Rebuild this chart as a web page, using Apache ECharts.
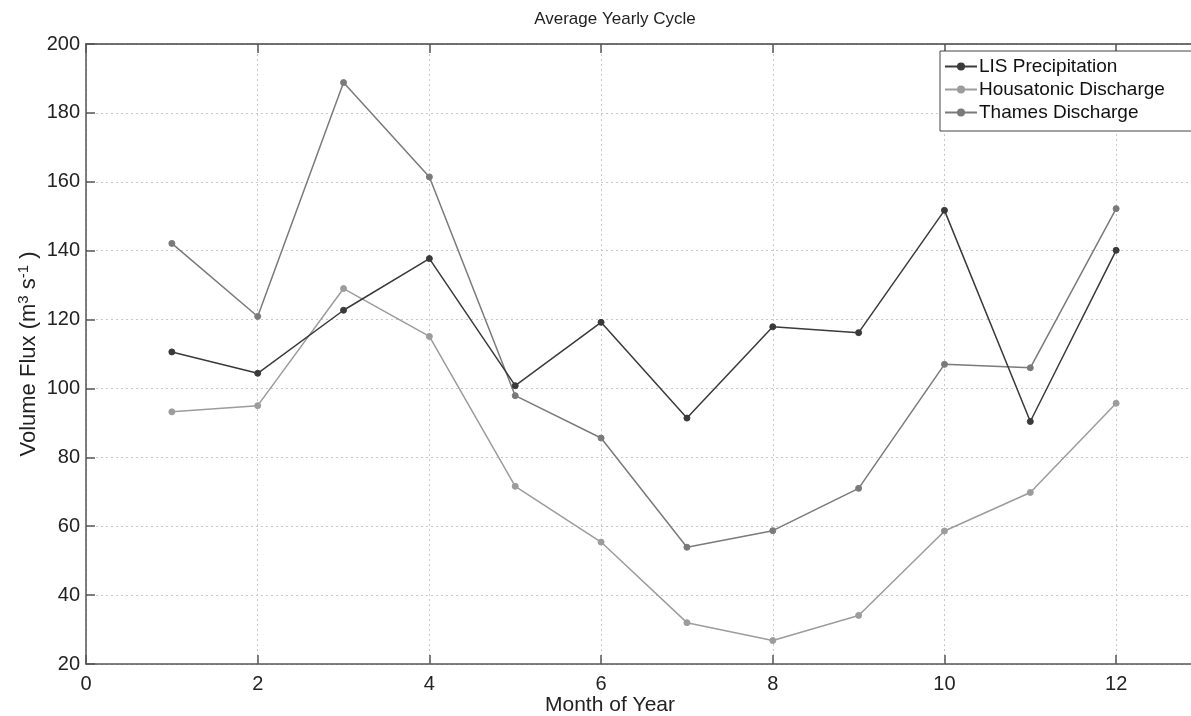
<!DOCTYPE html>
<html>
<head>
<meta charset="utf-8">
<script src="https://cdn.jsdelivr.net/npm/echarts@6/dist/echarts.min.js"></script>
<style>
html,body{margin:0;padding:0;background:#fff;}
#chart{width:1191px;height:716px;}
</style>
</head>
<body>
<div id="chart"></div>
<script>
const months = [1,2,3,4,5,6,7,8,9,10,11,12];
const lisPrecip = [110.6,104.4,122.7,137.7,100.8,119.2,91.4,117.9,116.2,151.7,90.4,140.1];
const housatonic = [93.2,95.0,129.0,115.1,71.6,55.4,32.0,26.8,34.1,58.6,69.8,95.7];
const thames = [142.1,120.9,188.8,161.4,97.9,85.6,53.9,58.7,71.0,107.0,106.0,152.2];
const seriesNames = ['LIS Precipitation','Housatonic Discharge','Thames Discharge'];

const font = 'Liberation Sans, Arial, Helvetica, sans-serif';
const pairs = arr => months.map((m,i)=>[m,arr[i]]);
const colors = ['#3a3a3a','#9c9c9c','#7a7a7a'];
const dataSets = [lisPrecip, housatonic, thames];

const chart = echarts.init(document.getElementById('chart'));
chart.setOption({
  animation:false,
  backgroundColor:'#fff',
  title:{text:'Average Yearly Cycle',left:610,top:6,textAlign:'center',
    textStyle:{fontFamily:font,fontSize:17,fontWeight:'normal',color:'#222'}},
  grid:{left:86,top:44,width:1116,height:620,containLabel:false,outerBoundsMode:'none'},
  legend:{
    orient:'vertical',left:940,top:51,
    data:seriesNames,
    itemWidth:32,itemHeight:10,itemGap:4,
    padding:[6,60,9,4],
    backgroundColor:'#fff',borderColor:'#444',borderWidth:1,borderRadius:0,
    textStyle:{fontFamily:font,fontSize:19,color:'#111',padding:[0,0,0,-3]}
  },
  xAxis:[{
    type:'value',min:0,max:13,interval:2,
    name:'Month of Year',nameLocation:'middle',nameGap:31,nameMoveOverlap:false,
    nameTextStyle:{fontFamily:font,fontSize:21,color:'#222',padding:[0,68,0,0]},
    axisLine:{lineStyle:{color:'#555',width:1.5}},
    axisTick:{inside:true,length:9,lineStyle:{color:'#555',width:1.5}},
    axisLabel:{fontFamily:font,fontSize:20,color:'#222',margin:10,
      formatter:v=>(v%2===0?String(v):'')},
    splitLine:{show:true,lineStyle:{color:'#c8c8c8',type:[2,3],width:1}}
  },{
    type:'value',min:0,max:13,interval:2,position:'top',
    axisLine:{show:true,lineStyle:{color:'#444',width:1.5}},
    axisTick:{inside:true,length:9,lineStyle:{color:'#555',width:1.5}},
    axisLabel:{show:false},splitLine:{show:false}
  }],
  yAxis:[{
    type:'value',min:20,max:200,interval:20,
    name:'Volume Flux (m{sup|3} s{sup|-1} )',nameLocation:'middle',nameGap:45,nameMoveOverlap:false,
    nameTextStyle:{fontFamily:font,fontSize:22,color:'#222',
      rich:{sup:{fontFamily:font,fontSize:15,color:'#222',verticalAlign:'top',padding:[0,0,10,0]}}},
    axisLine:{show:true,lineStyle:{color:'#555',width:1.5}},
    axisTick:{inside:true,length:9,lineStyle:{color:'#555',width:1.5}},
    axisLabel:{fontFamily:font,fontSize:20,color:'#222',margin:6},
    splitLine:{show:true,lineStyle:{color:'#c8c8c8',type:[2,3],width:1}}
  }],
  series: seriesNames.map((n,i)=>({
    name:n,type:'line',data:pairs(dataSets[i]),
    symbol:'circle',symbolSize:6,
    itemStyle:{color:colors[i],borderColor:colors[i]},
    lineStyle:{color:colors[i],width:1.5},
    z: i===0?5:3
  }))
});
</script>
</body>
</html>
